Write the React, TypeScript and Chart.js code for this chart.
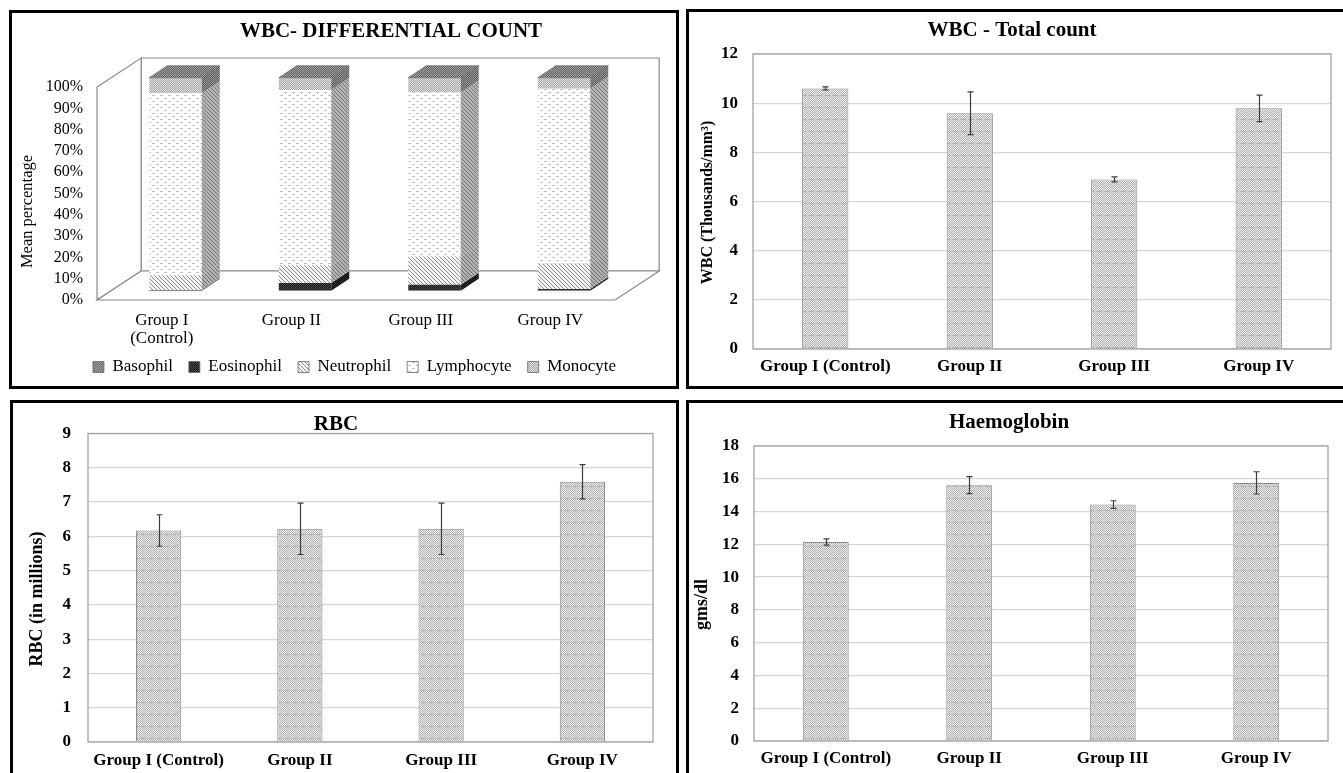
import React, { useEffect, useRef } from 'react';
import { Chart, registerables } from 'chart.js';

Chart.register(...registerables);

const FONT = "'Liberation Serif', 'Times New Roman', Times, serif";

// ---------------- data ----------------
const groupLabels = ['Group I (Control)', 'Group II', 'Group III', 'Group IV'];
const groupLabels3d: (string | string[])[] = [['Group I', '(Control)'], 'Group II', 'Group III', 'Group IV'];

const differentialSeries = ['Basophil', 'Eosinophil', 'Neutrophil', 'Lymphocyte', 'Monocyte'];
const basophil = [0, 0, 0, 0];
const eosinophil = [0.3, 3.6, 2.8, 0.8];
const neutrophil = [7.0, 8.3, 13.3, 12.0];
const lymphocyte = [85.4, 82.3, 76.9, 82.0];
const monocyte = [7.3, 5.8, 7.0, 5.2];

const wbcTotal = [10.6, 9.59, 6.9, 9.79];
const wbcTotalSE = [0.06, 0.87, 0.1, 0.54];
const rbcCount = [6.17, 6.22, 6.22, 7.59];
const rbcSE = [0.46, 0.75, 0.75, 0.5];
const haemoglobin = [12.14, 15.61, 14.43, 15.75];
const haemoglobinSE = [0.19, 0.52, 0.23, 0.68];

// ---------------- helpers ----------------
function pattern(
  ctx: CanvasRenderingContext2D,
  w: number,
  h: number,
  bg: string,
  fg: string,
  on: (x: number, y: number) => boolean
) {
  const c = document.createElement('canvas');
  c.width = w;
  c.height = h;
  const g = c.getContext('2d')!;
  g.fillStyle = bg;
  g.fillRect(0, 0, w, h);
  g.fillStyle = fg;
  for (let y = 0; y < h; y++) for (let x = 0; x < w; x++) if (on(x, y)) g.fillRect(x, y, 1, 1);
  return ctx.createPattern(c, 'repeat')!;
}

function captionsPlugin(c: {
  title: string;
  titleX: number;
  titleY: number;
  titleSize: number;
  yTitle: string;
  yX: number;
  yY: number;
  ySize: number;
  yWeight: string;
}) {
  return {
    id: 'captions',
    afterDraw(chart: any) {
      const ctx = chart.ctx as CanvasRenderingContext2D;
      ctx.save();
      ctx.fillStyle = '#000';
      ctx.textAlign = 'center';
      ctx.textBaseline = 'middle';
      ctx.font = `bold ${c.titleSize}px ${FONT}`;
      ctx.fillText(c.title, c.titleX, c.titleY);
      ctx.translate(c.yX, c.yY);
      ctx.rotate(-Math.PI / 2);
      ctx.font = `${c.yWeight} ${c.ySize}px ${FONT}`;
      ctx.fillText(c.yTitle, 0, 0);
      ctx.restore();
    },
  };
}

const plotFramePlugin = {
  id: 'plotFrame',
  beforeDatasetsDraw(chart: any) {
    const { ctx, chartArea: a } = chart;
    ctx.save();
    ctx.strokeStyle = '#a3a3a3';
    ctx.lineWidth = 1.3;
    ctx.strokeRect(a.left, a.top, a.right - a.left, a.bottom - a.top);
    ctx.restore();
  },
};

function errorBarsPlugin(errors: number[]) {
  return {
    id: 'errorBars',
    afterDatasetsDraw(chart: any) {
      const ctx = chart.ctx as CanvasRenderingContext2D;
      const ys = chart.scales.y;
      const values = chart.data.datasets[0].data as number[];
      const meta = chart.getDatasetMeta(0);
      ctx.save();
      ctx.strokeStyle = '#3c3c3c';
      ctx.lineWidth = 1.2;
      meta.data.forEach((el: any, i: number) => {
        const x = Math.round(el.x) + 0.5;
        const hi = ys.getPixelForValue(values[i] + errors[i]);
        const lo = ys.getPixelForValue(values[i] - errors[i]);
        ctx.beginPath();
        ctx.moveTo(x, hi);
        ctx.lineTo(x, lo);
        ctx.moveTo(x - 3, hi);
        ctx.lineTo(x + 3, hi);
        ctx.moveTo(x - 3, lo);
        ctx.lineTo(x + 3, lo);
        ctx.stroke();
      });
      ctx.restore();
    },
  };
}

interface BarSpec {
  values: number[];
  errors: number[];
  yMax: number;
  yStep: number;
  padTop: number;
  padRight: number;
  yWidth: number;
  xHeight: number;
  yTickPad: number;
  xTickPad: number;
  title: string;
  titleX: number;
  titleY: number;
  yTitle: string;
  yTitleX: number;
  yTitleY: number;
  yTitleSize: number;
}

function simpleBarConfig(ctx: CanvasRenderingContext2D, s: BarSpec): any {
  const fill = pattern(ctx, 8, 12, '#efefef', '#b0b0b0', (x, y) => (x + y) % 2 === 0 || (y === 11 && x < 5));
  return {
    type: 'bar',
    data: {
      labels: groupLabels,
      datasets: [
        {
          label: s.title,
          data: s.values,
          backgroundColor: fill,
          borderColor: '#8a8a8a',
          borderWidth: 1,
          barPercentage: 0.32,
          categoryPercentage: 1,
        },
      ],
    },
    options: {
      responsive: false,
      animation: false,
      devicePixelRatio: 1,
      events: [],
      layout: { padding: { left: 0, top: s.padTop, right: s.padRight, bottom: 0 } },
      plugins: { legend: { display: false }, title: { display: false }, tooltip: { enabled: false } },
      scales: {
        x: {
          grid: { display: false, drawTicks: false },
          border: { display: false },
          ticks: {
            padding: s.xTickPad,
            color: '#000',
            maxRotation: 0,
            autoSkip: false,
            font: { family: FONT, size: 17, weight: 'bold', lineHeight: 1.2 },
          },
          afterFit: (sc: any) => {
            sc.height = s.xHeight;
          },
        },
        y: {
          min: 0,
          max: s.yMax,
          grid: { color: '#d6d6d6', lineWidth: 1.3, drawTicks: false },
          border: { display: false },
          ticks: {
            stepSize: s.yStep,
            autoSkip: false,
            padding: s.yTickPad,
            color: '#000',
            font: { family: FONT, size: 17, weight: 'bold' },
          },
          afterFit: (sc: any) => {
            sc.width = s.yWidth;
          },
        },
      },
    },
    plugins: [
      plotFramePlugin,
      errorBarsPlugin(s.errors),
      captionsPlugin({
        title: s.title,
        titleX: s.titleX,
        titleY: s.titleY,
        titleSize: 21,
        yTitle: s.yTitle,
        yX: s.yTitleX,
        yY: s.yTitleY,
        ySize: s.yTitleSize,
        yWeight: 'bold',
      }),
    ],
  };
}

function differentialConfig(ctx: CanvasRenderingContext2D): any {
  const P = (w: number, h: number, bg: string, fg: string, on: (x: number, y: number) => boolean) =>
    pattern(ctx, w, h, bg, fg, on);
  const checker = (x: number, y: number) => (x + y) % 2 === 0;
  const diag = (x: number, y: number) => x === y;
  const dashes = (x: number, y: number) => (y === 1 && x < 3) || (y === 4 && x >= 4 && x < 7);

  const fronts = [
    P(2, 2, '#9c9c9c', '#6e6e6e', checker),
    P(2, 2, '#4a4a4a', '#161616', checker),
    P(4, 4, '#f4f4f4', '#8e8e8e', diag),
    P(8, 6, '#ffffff', '#c4c4c4', dashes),
    P(2, 2, '#e4e4e4', '#a4a4a4', checker),
  ];
  const sides = [
    P(2, 2, '#707070', '#4a4a4a', checker),
    P(2, 2, '#2e2e2e', '#0c0c0c', checker),
    P(4, 4, '#b0b0b0', '#707070', diag),
    P(4, 4, '#b2b2b2', '#787878', diag),
    P(2, 2, '#969696', '#5c5c5c', checker),
  ];
  const topFace = P(2, 2, '#a0a0a0', '#646464', checker);
  const series = [basophil, eosinophil, neutrophil, lymphocyte, monocyte];

  const FRONT = { dx: -13.7, dy: 9.3 };
  const BACK = { dx: 30.4, dy: -19.7 };
  const BAR = { dx: 18, dy: 12 };
  const LEGEND_CENTER = 342.5;

  const poly = (c: CanvasRenderingContext2D, pts: number[][], stroke: boolean) => {
    c.beginPath();
    pts.forEach(([px, py], i) => (i ? c.lineTo(px, py) : c.moveTo(px, py)));
    c.closePath();
    c.fill();
    if (stroke) c.stroke();
  };

  const box3d = {
    id: 'box3d',
    afterLayout(chart: any) {
      const lg = chart.legend;
      if (lg) {
        const half = (lg.right - lg.left) / 2;
        lg.left = LEGEND_CENTER - half;
        lg.right = LEGEND_CENTER + half;
      }
      // let the two-line category label extend below the axis box without being clipped
      const xs = chart.scales.x;
      if (xs) xs.bottom = xs.top + 75;
    },
    beforeDatasetsDraw(chart: any) {
      const { ctx: c, chartArea: a } = chart;
      const ys = chart.scales.y;
      const yTop = ys.getPixelForValue(100);
      const yBot = ys.getPixelForValue(0);
      c.save();
      c.strokeStyle = '#8a8a8a';
      c.lineWidth = 1.2;
      c.fillStyle = '#ffffff';
      poly(
        c,
        [
          [a.left + BACK.dx, yTop + BACK.dy],
          [a.right + BACK.dx, yTop + BACK.dy],
          [a.right + BACK.dx, yBot + BACK.dy],
          [a.left + BACK.dx, yBot + BACK.dy],
        ],
        true
      );
      poly(
        c,
        [
          [a.left + FRONT.dx, yTop + FRONT.dy],
          [a.left + BACK.dx, yTop + BACK.dy],
          [a.left + BACK.dx, yBot + BACK.dy],
          [a.left + FRONT.dx, yBot + FRONT.dy],
        ],
        true
      );
      poly(
        c,
        [
          [a.left + FRONT.dx, yBot + FRONT.dy],
          [a.right + FRONT.dx, yBot + FRONT.dy],
          [a.right + BACK.dx, yBot + BACK.dy],
          [a.left + BACK.dx, yBot + BACK.dy],
        ],
        true
      );
      c.restore();
    },
    afterDatasetsDraw(chart: any) {
      const c = chart.ctx as CanvasRenderingContext2D;
      c.save();
      const n = chart.data.datasets.length;
      for (let d = 0; d < n; d++) {
        const meta = chart.getDatasetMeta(d);
        meta.data.forEach((el: any) => {
          const { x, y, base, width } = el.getProps(['x', 'y', 'base', 'width'], true);
          if (Math.abs(base - y) < 0.3) return;
          const x2 = x + width / 2;
          c.fillStyle = sides[d];
          poly(
            c,
            [
              [x2, y],
              [x2 + BAR.dx, y - BAR.dy],
              [x2 + BAR.dx, base - BAR.dy],
              [x2, base],
            ],
            false
          );
        });
      }
      const topMeta = chart.getDatasetMeta(n - 1);
      c.strokeStyle = '#5a5a5a';
      c.lineWidth = 0.6;
      topMeta.data.forEach((el: any) => {
        const { x, y, width } = el.getProps(['x', 'y', 'width'], true);
        const x1 = x - width / 2;
        const x2 = x + width / 2;
        c.fillStyle = topFace;
        poly(
          c,
          [
            [x1, y],
            [x1 + BAR.dx, y - BAR.dy],
            [x2 + BAR.dx, y - BAR.dy],
            [x2, y],
          ],
          true
        );
      });
      c.restore();
    },
  };

  return {
    type: 'bar',
    data: {
      labels: groupLabels3d,
      datasets: series.map((vals, i) => ({
        label: differentialSeries[i],
        data: vals,
        backgroundColor: fronts[i],
        borderWidth: 0,
        barPercentage: 0.405,
        categoryPercentage: 1,
      })),
    },
    options: {
      responsive: false,
      animation: false,
      devicePixelRatio: 1,
      events: [],
      layout: { padding: { left: 0, top: 64.7, right: 47.25, bottom: 0.5 } },
      plugins: {
        title: { display: false },
        tooltip: { enabled: false },
        legend: {
          display: true,
          position: 'bottom',
          align: 'center',
          labels: {
            boxWidth: 11,
            boxHeight: 11,
            padding: 16,
            color: '#000',
            font: { family: FONT, size: 17 },
            generateLabels: (chart: any) =>
              (Chart.defaults.plugins.legend.labels as any)
                .generateLabels(chart)
                .map((l: any) => ({ ...l, lineWidth: 0.8, strokeStyle: '#666' })),
          },
        },
      },
      scales: {
        x: {
          stacked: true,
          grid: { display: false, drawTicks: false },
          border: { display: false },
          ticks: {
            padding: 21.3,
            labelOffset: -13.7,
            color: '#000',
            maxRotation: 0,
            autoSkip: false,
            font: { family: FONT, size: 17, lineHeight: 1.06 },
          },
          afterFit: (sc: any) => {
            sc.height = 51.8;
          },
        },
        y: {
          stacked: true,
          min: 0,
          max: 100,
          grid: { display: false, drawTicks: false },
          border: { display: false },
          ticks: {
            stepSize: 10,
            autoSkip: false,
            padding: 27.75,
            labelOffset: 9.3,
            color: '#000',
            font: { family: FONT, size: 16 },
            callback: (v: any) => `${v}%`,
          },
          afterFit: (sc: any) => {
            sc.width = 98.75;
          },
        },
      },
    },
    plugins: [
      box3d,
      captionsPlugin({
        title: 'WBC- DIFFERENTIAL COUNT',
        titleX: 379,
        titleY: 19,
        titleSize: 21,
        yTitle: 'Mean percentage',
        yX: 16,
        yY: 198.5,
        ySize: 16.5,
        yWeight: 'normal',
      }),
    ],
  };
}

function ChartBox({
  x,
  y,
  w,
  h,
  make,
}: {
  x: number;
  y: number;
  w: number;
  h: number;
  make: (ctx: CanvasRenderingContext2D) => any;
}) {
  const ref = useRef<HTMLCanvasElement>(null);
  useEffect(() => {
    const cv = ref.current;
    if (!cv) return;
    const chart = new Chart(cv, make(cv.getContext('2d')!));
    return () => chart.destroy();
  }, []);
  return (
    <canvas
      ref={ref}
      width={w}
      height={h}
      style={{ position: 'absolute', left: x, top: y, width: w, height: h, display: 'block' }}
    />
  );
}

const panel = (left: number, top: number, width: number, height: number): React.CSSProperties => ({
  position: 'absolute',
  left,
  top,
  width,
  height,
  border: '3px solid #000',
  boxSizing: 'border-box',
  background: '#fff',
});

export default function App() {
  useEffect(() => {
    document.body.style.margin = '0';
  }, []);
  return (
    <div
      style={{
        position: 'absolute',
        left: 0,
        top: 0,
        width: 1343,
        height: 773,
        overflow: 'hidden',
        background: '#fff',
      }}
    >
      <div style={panel(9, 10, 670, 379)} />
      <div style={panel(686, 9, 700, 380)} />
      <div style={panel(10, 400, 669, 420)} />
      <div style={panel(686, 400, 700, 420)} />

      <ChartBox x={12} y={13} w={664} h={373} make={(ctx) => differentialConfig(ctx)} />
      <ChartBox
        x={689}
        y={12}
        w={646}
        h={374}
        make={(ctx) =>
          simpleBarConfig(ctx, {
            values: wbcTotal,
            errors: wbcTotalSE,
            yMax: 12,
            yStep: 2,
            padTop: 42,
            padRight: 4,
            yWidth: 64,
            xHeight: 37,
            yTickPad: 15,
            xTickPad: 7.8,
            title: 'WBC - Total count',
            titleX: 323,
            titleY: 19,
            yTitle: 'WBC (Thousands/mm³)',
            yTitleX: 19,
            yTitleY: 190.5,
            yTitleSize: 16,
          })
        }
      />
      <ChartBox
        x={13}
        y={403}
        w={646}
        h={370}
        make={(ctx) =>
          simpleBarConfig(ctx, {
            values: rbcCount,
            errors: rbcSE,
            yMax: 9,
            yStep: 1,
            padTop: 30.5,
            padRight: 6,
            yWidth: 75,
            xHeight: 31,
            yTickPad: 17,
            xTickPad: 8.8,
            title: 'RBC',
            titleX: 323,
            titleY: 21.5,
            yTitle: 'RBC (in millions)',
            yTitleX: 24,
            yTitleY: 196,
            yTitleSize: 18,
          })
        }
      />
      <ChartBox
        x={689}
        y={403}
        w={640}
        h={370}
        make={(ctx) =>
          simpleBarConfig(ctx, {
            values: haemoglobin,
            errors: haemoglobinSE,
            yMax: 18,
            yStep: 2,
            padTop: 43,
            padRight: 1,
            yWidth: 65,
            xHeight: 32,
            yTickPad: 15,
            xTickPad: 7.8,
            title: 'Haemoglobin',
            titleX: 320,
            titleY: 20,
            yTitle: 'gms/dl',
            yTitleX: 13,
            yTitleY: 201.5,
            yTitleSize: 18,
          })
        }
      />
    </div>
  );
}
